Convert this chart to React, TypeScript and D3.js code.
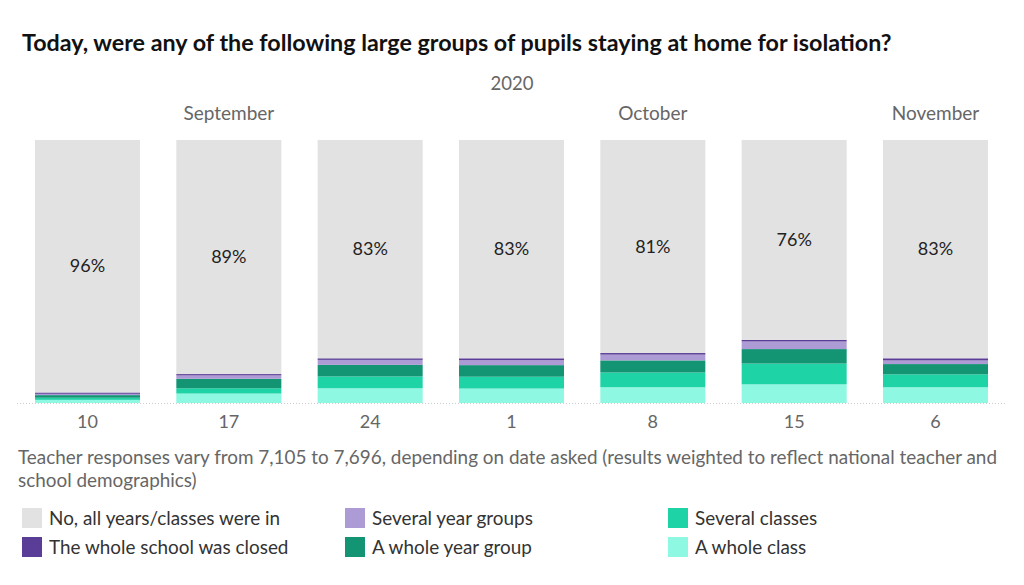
import React from "react";
import * as d3 from "d3";

const dates = ["10", "17", "24", "1", "8", "15", "6"];
const noAll = [96, 89, 83, 83, 81, 76, 83];
const wholeClass = [1.2, 3.6, 5.6, 5.5, 6.0, 7.1, 6.0];
const severalClasses = [0.8, 2.0, 4.5, 4.5, 5.6, 7.9, 4.9];
const wholeYearGroup = [1.0, 3.6, 4.4, 4.4, 4.6, 5.5, 3.9];
const severalYearGroups = [0.5, 1.3, 1.9, 1.9, 2.2, 2.9, 1.4];
const wholeSchoolClosed = [0.5, 0.5, 0.6, 0.7, 0.6, 0.6, 0.8];

const monthLabels = ["September", "October", "November"];
const monthAt = ["17", "8", "6"];
const yearLabel = "2020";

const seriesKeys = ["wholeClass", "severalClasses", "wholeYearGroup", "severalYearGroups", "wholeSchoolClosed", "noAll"];
const seriesColors: Record<string, string> = {
  wholeClass: "#8ff8e2",
  severalClasses: "#1ed3a6",
  wholeYearGroup: "#139473",
  severalYearGroups: "#ac9bd4",
  wholeSchoolClosed: "#5a3d96",
  noAll: "#e2e2e2",
};

const legendItems = [
  { key: "noAll", label: "No, all years/classes were in" },
  { key: "wholeSchoolClosed", label: "The whole school was closed" },
  { key: "severalYearGroups", label: "Several year groups" },
  { key: "wholeYearGroup", label: "A whole year group" },
  { key: "severalClasses", label: "Several classes" },
  { key: "wholeClass", label: "A whole class" },
];

const title = "Today, were any of the following large groups of pupils staying at home for isolation?";
const noteLines = [
  "Teacher responses vary from 7,105 to 7,696, depending on date asked (results weighted to reflect national teacher and",
  "school demographics)",
];

const FONT = "Lato, 'Open Sans', sans-serif";

export default function App() {
  const W = 1024, H = 585;
  const rows = dates.map((d, i) => ({
    date: d,
    wholeClass: wholeClass[i],
    severalClasses: severalClasses[i],
    wholeYearGroup: wholeYearGroup[i],
    severalYearGroups: severalYearGroups[i],
    wholeSchoolClosed: wholeSchoolClosed[i],
    noAll: noAll[i],
  }));
  const x = d3.scaleBand<string>().domain(dates).range([35, 988]).paddingInner(0.257).paddingOuter(0);
  const y = d3.scaleLinear().domain([0, 100]).range([403, 140]);
  const stacked = d3.stack<any>().keys(seriesKeys)(rows);
  const noLayer = stacked[stacked.length - 1];

  return (
    <svg width={W} height={H} style={{ position: "absolute", left: 0, top: 0, background: "#fff" }} fontFamily={FONT}>
      <text x={22} y={51} fontSize={23.3} fontWeight={700} fill="#111">{title}</text>
      <text x={512} y={90} textAnchor="middle" fontSize={18.5} fill="#666">{yearLabel}</text>
      {monthLabels.map((m, i) => (
        <text key={m} x={(x(monthAt[i]) ?? 0) + x.bandwidth() / 2} y={120} textAnchor="middle" fontSize={19} fill="#666">{m}</text>
      ))}
      <line x1={17} x2={1007} y1={y(0) + 0.5} y2={y(0) + 0.5} stroke="#ccc" strokeDasharray="1,2" />
      {stacked.map((layer) => (
        <g key={layer.key} fill={seriesColors[layer.key]}>
          {layer.map((d, i) => (
            <rect key={i} x={x(dates[i])} width={x.bandwidth()} y={y(d[1])} height={Math.max(0, y(d[0]) - y(d[1]))} />
          ))}
        </g>
      ))}
      {noLayer.map((d, i) => (
        <text key={i} x={(x(dates[i]) ?? 0) + x.bandwidth() / 2} y={(y(d[0]) + y(d[1])) / 2 + 6} textAnchor="middle" fontSize={18} fill="#222">
          {noAll[i]}%
        </text>
      ))}
      {dates.map((d) => (
        <text key={d} x={(x(d) ?? 0) + x.bandwidth() / 2} y={428} textAnchor="middle" fontSize={18} fill="#666">{d}</text>
      ))}
      {noteLines.map((l, i) => (
        <text key={i} x={18} y={464 + i * 23} fontSize={18.9} fill="#666">{l}</text>
      ))}
      {legendItems.map((it, i) => {
        const col = Math.floor(i / 2), row = i % 2;
        const lx = 22 + col * 323, ly = 508 + row * 29;
        return (
          <g key={it.key}>
            <rect x={lx} y={ly} width={20} height={20} fill={seriesColors[it.key]} />
            <text x={lx + 27} y={ly + 17} fontSize={18.9} fill="#333">{it.label}</text>
          </g>
        );
      })}
    </svg>
  );
}
